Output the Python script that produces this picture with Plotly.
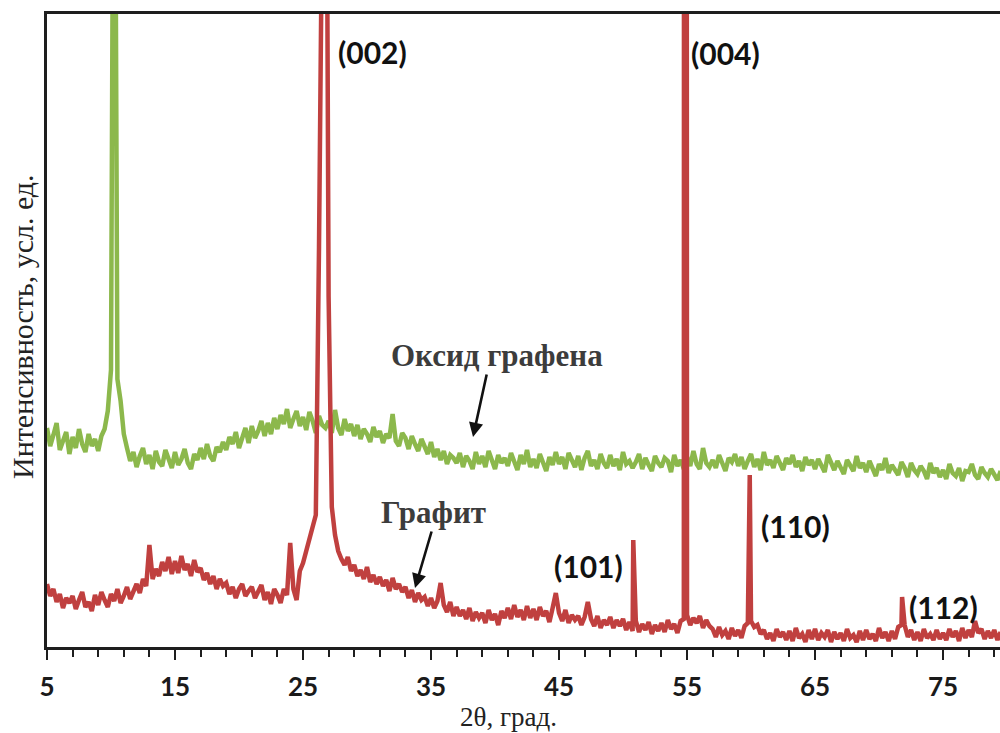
import numpy as np
import plotly.graph_objects as go

# 2θ grid: 5.00° .. 79.50° with a 0.25° step (8 values per row = 2° per row)
TWO_THETA_START = 5.0
TWO_THETA_STEP = 0.25

# Graphene oxide, intensity in arbitrary units
GRAPHENE_OXIDE = [
    219, 201, 212, 224, 197, 206, 215, 193,   # 5
    210, 199, 218, 203, 195, 213, 201, 208,   # 7
    196, 211, 218, 236, 277, 1050, 268, 246,  # 9
    213, 199, 186, 195, 180, 191, 199, 183,   # 11
    192, 178, 196, 185, 181, 197, 186, 179,   # 13
    195, 182, 188, 198, 184, 178, 193, 187,   # 15
    199, 188, 203, 191, 186, 200, 195, 205,   # 17
    197, 210, 203, 215, 199, 208, 219, 204,   # 19
    221, 209, 216, 226, 211, 224, 213, 229,   # 21
    218, 232, 223, 238, 219, 228, 236, 221,   # 23
    230, 217, 235, 226, 214, 231, 222, 219,   # 25
    226, 214, 237, 219, 212, 228, 216, 223,   # 27
    211, 222, 208, 218, 213, 205, 220, 210,   # 29
    216, 204, 213, 209, 233, 206, 201, 214,   # 31
    209, 198, 211, 203, 196, 208, 201, 193,   # 33
    205, 190, 198, 187, 196, 183, 192, 189,   # 35
    184, 194, 180, 191, 186, 178, 195, 183,   # 37
    191, 180, 196, 185, 178, 192, 184, 189,   # 39
    181, 194, 186, 177, 192, 183, 197, 180,   # 41
    188, 179, 193, 185, 176, 190, 182, 195,   # 43
    183, 190, 178, 194, 186, 180, 191, 177,   # 45
    189, 196, 181, 187, 178, 193, 184, 179,   # 47
    192, 181, 188, 177, 195, 183, 186, 179,   # 49
    185, 193, 178, 189, 182, 176, 191, 184,   # 51
    180, 189, 186, 175, 192, 181, 187, 178,   # 53
    190, 181, 196, 183, 178, 199, 184, 180,   # 55
    187, 179, 192, 183, 176, 189, 185, 193,   # 57
    181, 190, 178, 186, 193, 180, 188, 177,   # 59
    195, 182, 187, 179, 191, 184, 177, 189,   # 61
    183, 192, 180, 186, 176, 190, 182, 187,   # 63
    178, 188, 181, 175, 192, 183, 177, 186,   # 65
    180, 173, 187, 181, 176, 191, 179, 184,   # 67
    175, 186, 178, 171, 183, 177, 189, 174,   # 69
    182, 176, 172, 185, 179, 170, 184, 177,   # 71
    173, 181, 176, 168, 184, 174, 179, 170,   # 73
    177, 168, 183, 174, 171, 179, 166, 176,   # 75
    175, 183, 172, 168, 180, 174, 170, 178,   # 77
    173, 167, 176,                            # 79
]

# Graphite, intensity in arbitrary units
GRAPHITE = [
    63, 51, 58, 45, 53, 39, 49, 44,           # 5
    51, 38, 47, 55, 40, 45, 36, 52,           # 7
    42, 55, 47, 40, 53, 46, 58, 44,           # 9
    51, 60, 48, 57, 63, 54, 68, 61,           # 11
    102, 68, 78, 71, 85, 76, 90, 73,          # 13
    86, 74, 91, 77, 83, 71, 87, 75,           # 15
    79, 67, 74, 63, 71, 58, 68, 61,           # 17
    64, 53, 60, 49, 58, 63, 51, 56,           # 19
    60, 49, 57, 62, 47, 55, 43, 58,           # 21
    52, 44, 58, 52, 104, 58, 47, 76,          # 23
    84, 95, 107, 118, 132, 400, 1100, 1100,   # 25
    350, 140, 112, 96, 88, 82, 90, 76,        # 27
    82, 71, 77, 68, 80, 65, 72, 63,           # 29
    70, 61, 67, 56, 69, 58, 63, 55,           # 31
    60, 49, 57, 45, 54, 47, 50, 41,           # 33
    49, 39, 46, 64, 42, 35, 45, 31,           # 35
    40, 31, 37, 28, 39, 26, 35, 29,           # 37
    34, 24, 37, 27, 33, 22, 36, 29,           # 39
    39, 28, 42, 30, 37, 27, 41, 29,           # 41
    38, 27, 40, 31, 36, 25, 39, 54,           # 43
    34, 26, 37, 24, 32, 27, 31, 22,           # 45
    30, 45, 28, 21, 31, 19, 27, 22,           # 47
    30, 19, 27, 21, 28, 17, 25, 16,           # 49
    26, 15, 23, 17, 25, 13, 22, 16,           # 51
    24, 15, 27, 18, 23, 14, 26, 28,           # 53
    32, 22, 29, 24, 31, 19, 27, 21,           # 55
    18, 10, 20, 12, 16, 8, 19, 11,            # 57
    17, 9, 21, 24, 26, 20, 22, 13,            # 59
    17, 8, 14, 6, 18, 10, 15, 7,              # 61
    16, 6, 19, 9, 13, 5, 17, 8,               # 63
    18, 7, 14, 10, 17, 5, 15, 8,              # 65
    14, 6, 18, 9, 12, 5, 16, 7,               # 67
    17, 8, 13, 6, 19, 9, 15, 6,               # 69
    16, 8, 20, 22, 22, 10, 17, 7,             # 71
    15, 6, 18, 9, 13, 7, 17, 8,               # 73
    14, 7, 18, 10, 16, 6, 19, 9,              # 75
    17, 10, 26, 14, 18, 8, 16, 9,             # 77
    17, 7, 15,                                # 79
]

# Sharp graphite reflections between grid points: 2θ and height
REFLEX_2THETA = [50.8, 54.84, 59.9, 71.8]
REFLEX_HEIGHT = [107, 6000, 172, 50]

# Miller-index labels: text, 2θ, intensity
HKL_TEXT = ["(002)", "(004)", "(101)", "(110)", "(112)"]
HKL_X = [30.39, 57.97, 47.27, 63.44, 75.0]
HKL_Y = [595, 594, 81, 121, 40]

X_TICKS = [5, 15, 25, 35, 45, 55, 65, 75]
X_RANGE = [5, 79.45]
Y_RANGE = [0, 633]

GREEN = "#8cb84c"
RED = "#c0403f"
AXIS = "#1e1e1e"


def grid(values):
    return TWO_THETA_START + TWO_THETA_STEP * np.arange(len(values))


x_go = grid(GRAPHENE_OXIDE)
y_go = np.array(GRAPHENE_OXIDE, dtype=float)

x_gr = np.concatenate([grid(GRAPHITE), REFLEX_2THETA])
y_gr = np.concatenate([np.array(GRAPHITE, dtype=float), REFLEX_HEIGHT])
order = np.argsort(x_gr, kind="stable")
x_gr, y_gr = x_gr[order], y_gr[order]

fig = go.Figure()
fig.add_trace(go.Scatter(x=x_go, y=y_go, mode="lines",
                         line=dict(color=GREEN, width=4.5), name="Оксид графена"))
fig.add_trace(go.Scatter(x=x_gr, y=y_gr, mode="lines",
                         line=dict(color=RED, width=4.5), name="Графит"))

annotations = []
for t, x, y in zip(HKL_TEXT, HKL_X, HKL_Y):
    annotations.append(dict(x=x, y=y, text=t, showarrow=False, xanchor="center", yanchor="middle",
                            font=dict(family="Lato", size=30, color="#111111", weight="bold")))

# sample names with pointer arrows
annotations += [
    dict(x=40.16, y=292, text="Оксид графена", showarrow=False,
         font=dict(family="Liberation Serif", size=31, color="#3c3c3c", weight="bold")),
    dict(x=35.23, y=135, text="Графит", showarrow=False,
         font=dict(family="Liberation Serif", size=31, color="#3c3c3c", weight="bold")),
    dict(x=38.28, y=210, ax=14, ay=-64, text="", showarrow=True, arrowhead=2,
         arrowsize=1.1, arrowwidth=2.6, arrowcolor="#111111", standoff=0),
    dict(x=33.75, y=59, ax=17, ay=-58, text="", showarrow=True, arrowhead=2,
         arrowsize=1.1, arrowwidth=2.6, arrowcolor="#111111", standoff=0),
    # axis titles
    dict(xref="paper", yref="paper", x=(22 - 47) / 953, y=(647 - 327) / 633,
         text="Интенсивность, усл. ед.", textangle=-90, showarrow=False,
         xanchor="center", yanchor="middle",
         font=dict(family="Liberation Serif", size=30, color="#222222")),
    dict(xref="paper", yref="paper", x=(508 - 47) / 953, y=(647 - 733) / 633,
         text="2θ, град.", showarrow=False, xanchor="center", yanchor="bottom",
         borderpad=0,
         font=dict(family="Liberation Serif", size=27, color="#222222")),
]

fig.update_layout(
    width=1000, height=733,
    margin=dict(l=47, r=0, t=14, b=86),
    paper_bgcolor="white", plot_bgcolor="white",
    showlegend=False,
    annotations=annotations,
)
fig.update_xaxes(
    range=X_RANGE, showgrid=False, zeroline=False,
    showline=True, linewidth=3, linecolor=AXIS, mirror=True,
    ticks="outside", ticklen=10, tickwidth=2, tickcolor=AXIS,
    tickmode="array", tickvals=X_TICKS, ticktext=[str(v) for v in X_TICKS],
    ticklabelstandoff=5,
    tickfont=dict(family="Lato", size=26, color="#1a1a1a", weight="bold"),
    minor=dict(tick0=5, dtick=2, ticks="outside", ticklen=7, tickwidth=2, tickcolor=AXIS),
)
fig.update_yaxes(
    range=Y_RANGE, showgrid=False, zeroline=False,
    showline=True, linewidth=3, linecolor=AXIS,
    showticklabels=False, ticks="",
)

fig.write_html("out.html")
